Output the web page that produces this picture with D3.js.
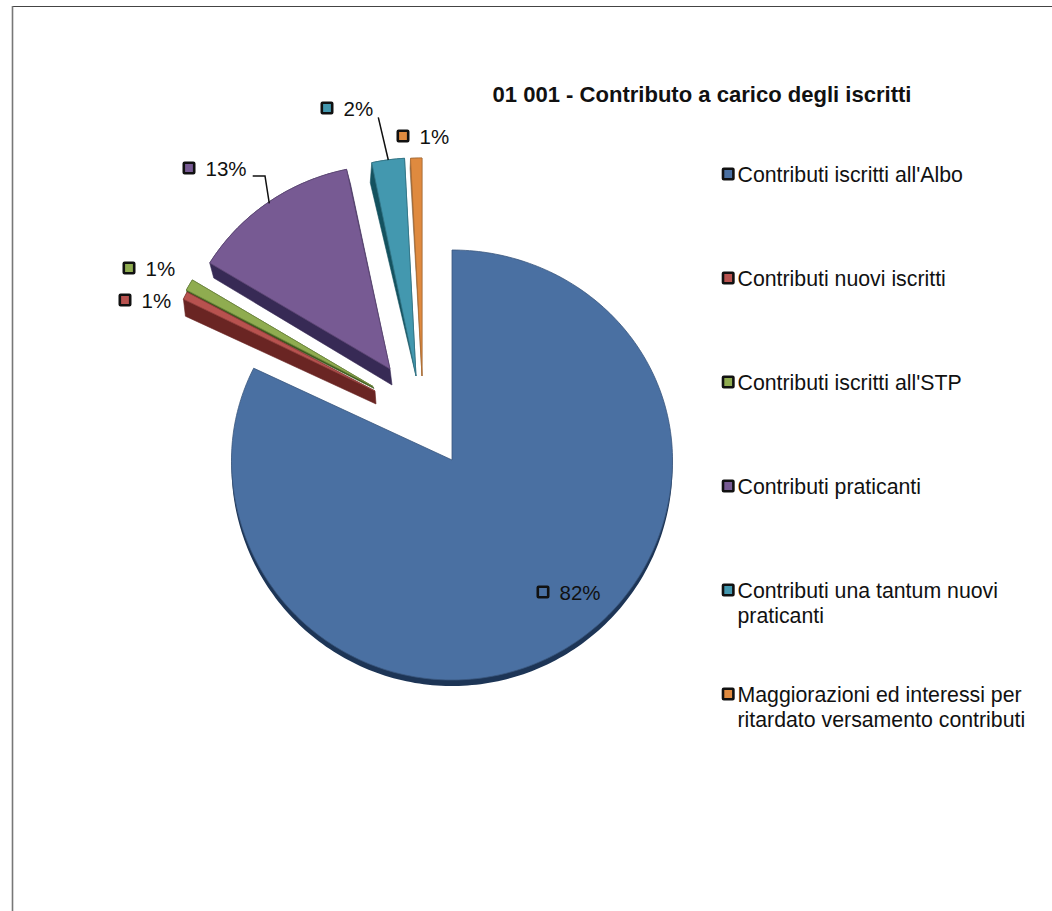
<!DOCTYPE html>
<html>
<head>
<meta charset="utf-8">
<script src="https://cdn.jsdelivr.net/npm/d3@7"></script>
<style>
  body { margin: 0; background: #fff; }
  text { font-family: "Liberation Sans", Arial, sans-serif; fill: #111; }
</style>
</head>
<body>
<svg id="chart"></svg>
<script>
// values
const categories = [
    "Contributi iscritti all'Albo",
    "Contributi nuovi iscritti",
    "Contributi iscritti all'STP",
    "Contributi praticanti",
    "Contributi una tantum nuovi praticanti",
    "Maggiorazioni ed interessi per ritardato versamento contributi"
];
const shares = [82.2, 0.6, 0.9, 13.0, 2.45, 0.85];
const title = "01 001 - Contributo a carico degli iscritti";

// colours
const topColors = ["#4a70a2", "#b8524f", "#8fac50", "#775a93", "#4398af", "#df8a3f"];
const sideColors = ["#1d3556", "#6a2523", "#3c5a1d", "#372a55", "#14525f", "#8a6a4a"];

// layout of the exploded slices
const width = 1052, height = 911;
const center = [452, 460];
const explodeX = [0, -77, -79, -62, -36, -30];
const explodeY = [0, -69, -73.5, -91, -84, -84];
const radiusX = [220.5, 213, 211.5, 211, 215, 215];
const radiusY = [210, 210, 205, 204, 218, 218];
const radiusYBelow = 220;
const cornerDepth = [[0, 6], [2, 17], [1, 4], [4, 15], [-1.5, 20], [-0.5, 10]];
const apexDepth = [[0, 6], [1, 13], [1, 2], [2, 16], [0, 0], [0, 0]];
const drawOrder = [5, 4, 3, 2, 1, 0];

// label offsets from the apex of each slice
const labelX = [91, -250, -244, -201, -89, -19];
const labelY = [132, -91, -118.5, -201, -268, -240];
const leaders = { 3: [[-137.3, -193], [-125, -193], [-120.7, -165.7]], 4: [[-37.7, -258.7], [-27.7, -216]] };

const legendX = 722;
const legendRows = [["Contributi iscritti all'Albo"], ["Contributi nuovi iscritti"], ["Contributi iscritti all'STP"],
    ["Contributi praticanti"], ["Contributi una tantum nuovi", "praticanti"],
    ["Maggiorazioni ed interessi per", "ritardato versamento contributi"]];

const svg = d3.select("#chart").attr("width", width).attr("height", height).style("display", "block");

// frame, top and left only
svg.append("path")
    .attr("d", d3.line()([[1052, 6.5], [12.5, 6.5]]))
    .attr("fill", "none").attr("stroke", "#444").attr("stroke-width", 1.2);
svg.append("path")
    .attr("d", d3.line()([[12.5, 6], [12.5, 911]]))
    .attr("fill", "none").attr("stroke", "#777").attr("stroke-width", 1.6);

const pie = d3.pie().sort(null).value(d => d);
const arcs = pie(shares);
const line = d3.line();

function surface(i) {
    const a = arcs[i];
    const apex = [center[0] + explodeX[i], center[1] + explodeY[i]];
    const steps = Math.max(2, Math.ceil((a.endAngle - a.startAngle) / 0.02));
    const rim = d3.range(steps + 1).map(k => {
        const t = a.startAngle + (a.endAngle - a.startAngle) * k / steps;
        const c = Math.cos(t);
        return [apex[0] + radiusX[i] * Math.sin(t), apex[1] - (c > 0 ? radiusY[i] : radiusYBelow) * c];
    });
    return { apex, rim };
}

drawOrder.forEach(i => {
    const { apex, rim } = surface(i);
    const [dx, dy] = cornerDepth[i];
    const [ax, ay] = apexDepth[i];
    if (i === 0) {
        // the big slice is concave, a shifted copy is enough for its edge
        const low = [apex, ...rim].map(p => [p[0] + dx, p[1] + dy]);
        svg.append("path").attr("d", line(low) + "Z").attr("fill", sideColors[i]);
    } else {
        const pts = [apex, [apex[0] + ax, apex[1] + ay], ...rim, ...rim.map(p => [p[0] + dx, p[1] + dy])];
        svg.append("path").attr("d", line(d3.polygonHull(pts)) + "Z")
            .attr("fill", sideColors[i]).attr("stroke", sideColors[i]).attr("stroke-width", 0.6);
    }
    svg.append("path")
        .attr("d", line([apex, ...rim]) + "Z")
        .attr("fill", topColors[i])
        .attr("stroke", d3.color(topColors[i]).darker(0.7))
        .attr("stroke-width", 0.8)
        .attr("stroke-linejoin", "round");
});

// leader lines
Object.keys(leaders).forEach(i => {
    const pts = leaders[i].map(p => [center[0] + explodeX[i] + p[0], center[1] + explodeY[i] + p[1]]);
    svg.append("path").attr("d", line(pts)).attr("fill", "none").attr("stroke", "#111").attr("stroke-width", 1.5);
});

function swatch(x, y, fill) {
    svg.append("rect")
        .attr("x", x - 5.2).attr("y", y - 5.2).attr("width", 10.4).attr("height", 10.4)
        .attr("rx", 0.8)
        .attr("fill", fill).attr("stroke", "#111").attr("stroke-width", 2.6);
}

// data labels
const fmt = d => Math.round(d) + "%";
shares.forEach((v, i) => {
    const x = center[0] + explodeX[i] + labelX[i];
    const y = center[1] + explodeY[i] + labelY[i];
    swatch(x, y, topColors[i]);
    svg.append("text")
        .attr("x", x + 16.5).attr("y", y + 8.3)
        .attr("font-size", 20.5).text(fmt(v));
});

svg.append("text")
    .attr("x", 492.5).attr("y", 101.5)
    .attr("font-size", 22.05).attr("font-weight", "bold")
    .text(title);

// legend
const legendY = d3.scaleLinear().domain([0, 5]).range([174, 694]);
categories.forEach((c, i) => {
    const y = legendY(i);
    swatch(legendX + 6.2, y, topColors[i]);
    const t = svg.append("text").attr("font-size", 21.3);
    legendRows[i].forEach((row, k) => {
        t.append("tspan")
            .attr("x", legendX + 15.5)
            .attr("y", y + 7.5 + k * 25)
            .text(row);
    });
});
</script>
</body>
</html>
